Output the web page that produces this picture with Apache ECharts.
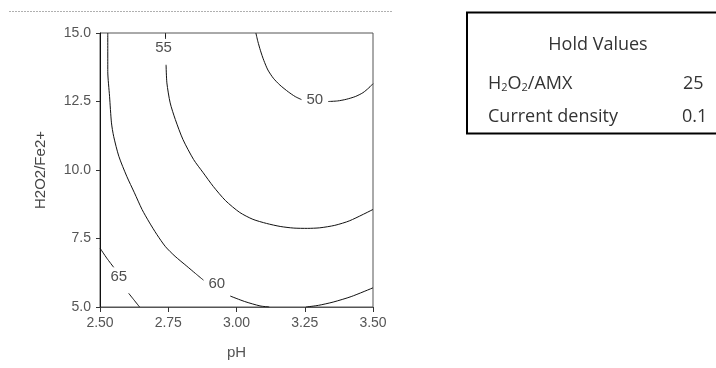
<!DOCTYPE html>
<html><head><meta charset="utf-8">
<script src="https://cdn.jsdelivr.net/npm/echarts@6/dist/echarts.min.js"></script>
<style>html,body{margin:0;padding:0;background:#fff}#c{width:716px;height:368px}</style>
</head><body><div id="c"></div>
<script>
// Axis ranges / ticks
const xMin = 2.5, xMax = 3.5, xStep = 0.25;
const yMin = 5, yMax = 15, yStep = 2.5;
const xTitle = 'pH';
const yTitle = 'H2O2/Fe2+';

// Contour segments (pH, H2O2/Fe2+)
const c50a = [[3.071,15.0],[3.078,14.7],[3.088,14.35],[3.100,14.0],[3.115,13.65],[3.135,13.35],[3.159,13.1],[3.19,12.85],[3.215,12.68],[3.238,12.57]];
const c50b = [[3.336,12.50],[3.37,12.52],[3.402,12.58],[3.435,12.68],[3.463,12.82],[3.485,13.0],[3.5,13.15]];
const c55a = [[2.740,15.0],[2.740,14.78]];
const c55b = [[2.742,13.84],[2.745,13.18],[2.757,12.45],[2.776,11.84],[2.804,11.11],[2.843,10.38],[2.878,9.90],[2.915,9.40],[2.96,8.88],[3.012,8.45],[3.06,8.2],[3.11,8.05],[3.16,7.94],[3.21,7.88],[3.26,7.87],[3.305,7.89],[3.36,7.98],[3.415,8.15],[3.5,8.56]];
const c60a = [[2.5285,15.0],[2.5285,13.6],[2.535,12.69],[2.542,11.72],[2.550,11.23],[2.569,10.50],[2.598,9.77],[2.626,9.17],[2.654,8.56],[2.680,8.1],[2.708,7.65],[2.740,7.2],[2.775,6.85],[2.818,6.49],[2.85,6.22],[2.879,5.98]];
const c60b = [[2.977,5.40],[3.03,5.2],[3.086,5.04],[3.12,5.0]];
const c60c = [[3.255,5.0],[3.30,5.06],[3.354,5.18],[3.42,5.38],[3.5,5.70]];
const c65a = [[2.5,7.15],[2.525,6.78],[2.55,6.45]];
const c65b = [[2.605,5.5],[2.625,5.25],[2.645,5.0]];
const contourLabels = [[3.287,12.57,50],[2.733,14.45,55],[2.928,5.83,60],[2.569,6.11,65]];

// Hold values box
const holdTitle = 'Hold Values';
const holdNames = ['H2O2/AMX','Current density'];
const holdValues = ['25','0.1'];

const segments = [c50a,c50b,c55a,c55b,c60a,c60b,c60c,c65a,c65b];

const AX = 'Liberation Sans';
const LG = 'Open Sans';
const chart = echarts.init(document.getElementById('c'), null, {renderer:'canvas'});
const series = segments.map(seg => ({
  type:'line', data: seg, showSymbol:false, symbol:'none', smooth:0.25,
  lineStyle:{color:'#111', width:1}, silent:true, clip:true, z:3
}));
series.push({
  type:'scatter', data: contourLabels, symbolSize:0, silent:true, z:5,
  label:{show:true, position:'inside', formatter:p=>String(p.value[2]),
    fontFamily:AX, fontSize:15, color:'#222'}
});

chart.setOption({
  animation:false,
  backgroundColor:'#fff',
  grid:{left:100, top:33, width:273, height:274, show:true, borderColor:'#555', borderWidth:1, backgroundColor:'transparent'},
  xAxis:{type:'value', min:xMin, max:xMax, interval:xStep,
    name:xTitle, nameLocation:'middle', nameGap:38,
    nameTextStyle:{fontFamily:AX, fontSize:15, color:'#555'},
    axisLine:{show:true, lineStyle:{color:'#555', width:1}},
    axisTick:{show:true, length:5, inside:false, lineStyle:{color:'#333'}},
    axisLabel:{margin:9, fontFamily:AX, fontSize:14, color:'#555', formatter:v=>v.toFixed(2)},
    splitLine:{show:false}},
  yAxis:{type:'value', min:yMin, max:yMax, interval:yStep,
    name:yTitle, nameLocation:'middle', nameGap:52, nameRotate:90,
    nameTextStyle:{fontFamily:AX, fontSize:15, color:'#444'},
    axisLine:{show:true, lineStyle:{color:'#111', width:1}},
    axisTick:{show:true, length:4, inside:false, lineStyle:{color:'#333'}},
    axisLabel:{margin:9, fontFamily:AX, fontSize:14, color:'#555', formatter:v=>v.toFixed(1)},
    splitLine:{show:false}},
  series:series,
  graphic:[
    {type:'line', shape:{x1:9, y1:11.5, x2:393, y2:11.5}, style:{stroke:'#b0b0b0', lineWidth:1, lineDash:[2,1]}, silent:true},
    {type:'rect', shape:{x:467, y:12.5, width:270, height:121}, style:{fill:'#fff', stroke:'#000', lineWidth:2}, silent:true},
    {type:'text', x:598, y:44.5, style:{text:holdTitle, fontFamily:LG, fontSize:18, fill:'#333', align:'center', verticalAlign:'middle'}},
    {type:'text', x:488, y:83.5, style:{
      text:'{n|H}{s|2}{n|O}{s|2}{n|/AMX}', align:'left', verticalAlign:'middle',
      rich:{n:{fontFamily:LG, fontSize:18, fill:'#333', color:'#333', lineHeight:22},
            s:{fontFamily:LG, fontSize:11, fill:'#333', color:'#333', lineHeight:22, padding:[9,0,0,0]}}}},
    {type:'text', x:683, y:83.5, style:{text:holdValues[0], fontFamily:LG, fontSize:18, fill:'#333', align:'left', verticalAlign:'middle'}},
    {type:'text', x:488, y:116.5, style:{text:holdNames[1], fontFamily:LG, fontSize:18, fill:'#333', align:'left', verticalAlign:'middle'}},
    {type:'text', x:682, y:116.5, style:{text:holdValues[1], fontFamily:LG, fontSize:18, fill:'#333', align:'left', verticalAlign:'middle'}}
  ]
});
</script></body></html>
